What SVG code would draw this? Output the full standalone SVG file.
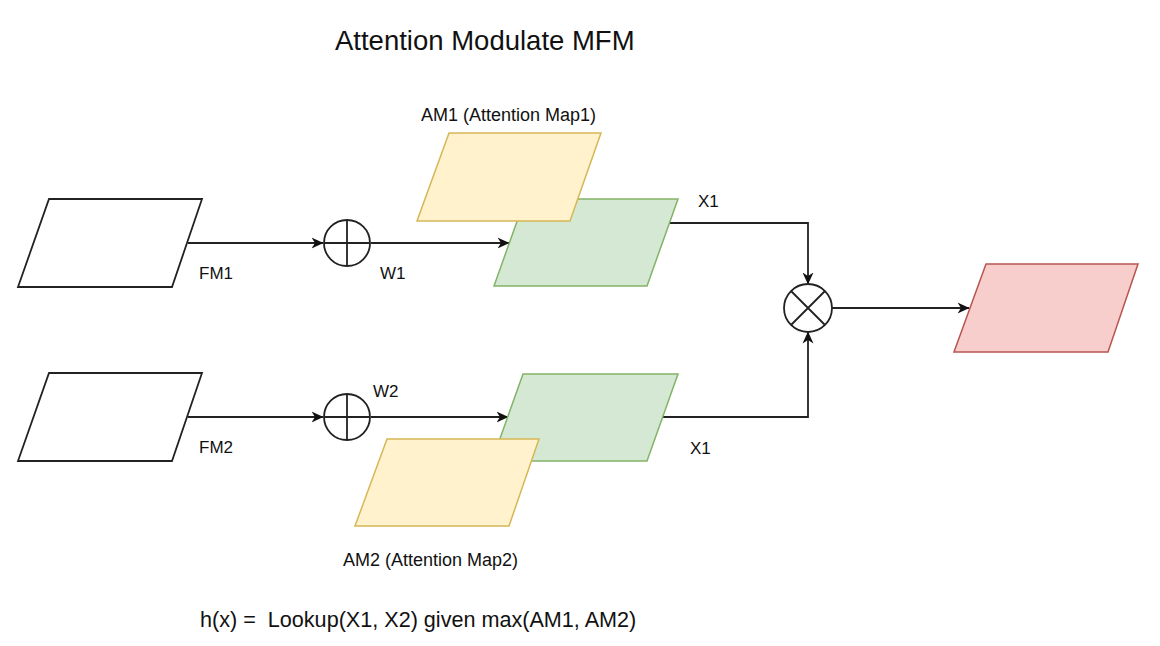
<svg xmlns="http://www.w3.org/2000/svg" width="1160" height="646" viewBox="0 0 1160 646">
  <defs>
    <marker id="arrow" viewBox="0 0 12 12" refX="11.5" refY="6" markerWidth="12" markerHeight="12" markerUnits="userSpaceOnUse" orient="auto">
      <path d="M0,0.5 L12,6 L0,11.5 L3.5,6 Z" fill="#111"/>
    </marker>
    <style>
      text { font-family: "Liberation Sans", Arial, Helvetica, sans-serif; fill: #111; }
      .lbl { font-size: 17px; }
      .map { font-size: 18px; }
      .plain { fill: #fff; stroke: #222; stroke-width: 1.8; }
      .att { fill: #fff2cc; stroke: #d6b656; stroke-width: 1.5; }
      .feat { fill: #d5e8d4; stroke: #82b366; stroke-width: 1.5; }
      .out { fill: #f8cecc; stroke: #b85450; stroke-width: 1.5; }
      .op { fill: #fff; stroke: #222; stroke-width: 1.8; }
      .edge { fill: none; stroke: #222; stroke-width: 1.8; }
    </style>
  </defs>

  <text x="335" y="50" font-size="27.5">Attention Modulate MFM</text>

  <!-- connectors -->
  <g id="connectors">
    <path class="edge" d="M188,243 L323,243" marker-end="url(#arrow)"/>
    <path class="edge" d="M371,243 L509,243" marker-end="url(#arrow)"/>
    <path class="edge" d="M188,417 L323,417" marker-end="url(#arrow)"/>
    <path class="edge" d="M371,417 L508,417" marker-end="url(#arrow)"/>
    <path class="edge" d="M670,223 L808,223 L808,284" marker-end="url(#arrow)"/>
    <path class="edge" d="M663,417 L808,417 L808,332" marker-end="url(#arrow)"/>
    <path class="edge" d="M832,308 L969,308" marker-end="url(#arrow)"/>
  </g>

  <g id="fm1">
    <polygon class="plain" points="49,199 202,199 172,287 18,287"/>
    <text class="lbl" x="199" y="279">FM1</text>
  </g>
  <g id="fm2">
    <polygon class="plain" points="49,373 202,373 172,461 18,461"/>
    <text class="lbl" x="199" y="453">FM2</text>
  </g>

  <g id="sum1">
    <circle class="op" cx="347" cy="243" r="23"/>
    <path class="edge" d="M324,243 H370 M347,220 V266"/>
    <text class="lbl" x="380" y="279">W1</text>
  </g>
  <g id="sum2">
    <circle class="op" cx="347" cy="417" r="23"/>
    <path class="edge" d="M324,417 H370 M347,394 V440"/>
    <text class="lbl" x="373" y="397">W2</text>
  </g>

  <g id="x1-top">
    <polygon class="feat" points="525,199 678,199 647,286 494,286"/>
    <text class="lbl" x="698" y="207">X1</text>
  </g>
  <g id="am1">
    <polygon class="att" points="449,133 601,133 570,221 417,221"/>
    <text class="map" x="421" y="121">AM1 (Attention Map1)</text>
  </g>

  <g id="x1-bottom">
    <polygon class="feat" points="523,374 678,374 647,461 492,461"/>
    <text class="lbl" x="690" y="454">X1</text>
  </g>
  <g id="am2">
    <polygon class="att" points="387,439 539,439 509,526 355,526"/>
    <text class="map" x="343" y="566">AM2 (Attention Map2)</text>
  </g>

  <g id="mul">
    <circle class="op" cx="808" cy="308" r="24"/>
    <path class="edge" d="M791,291 L825,325 M825,291 L791,325"/>
  </g>

  <g id="output">
    <polygon class="out" points="986,264 1138,264 1108,352 954,352"/>
  </g>

  <text x="200" y="627" font-size="21.6" xml:space="preserve">h(x) =  Lookup(X1, X2) given max(AM1, AM2)</text>
</svg>
